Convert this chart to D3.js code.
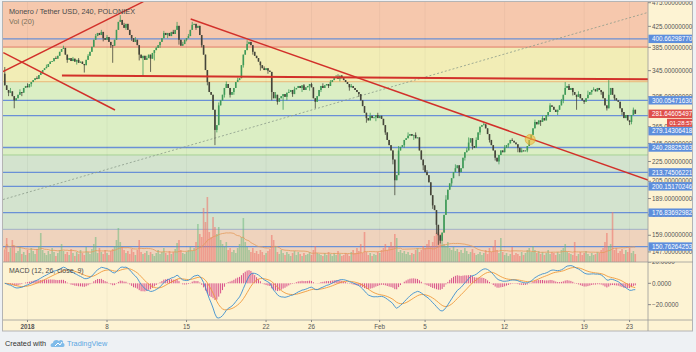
<!DOCTYPE html>
<html><head><meta charset="utf-8">
<script src="https://cdn.jsdelivr.net/npm/d3@7"></script>
<style>body{margin:0;background:#eef1f4;}svg{display:block;}</style>
</head><body><svg id="c" width="696" height="352"></svg>
<script>
// ---------------- DATA ----------------
const startTime = Date.UTC(2017, 11, 30, 0, 0);   // first 4h candle
const candleHours = 4;
const closes = [
322,315,311,313,306, 300,303,308,312,311, 318,321,319,324,327, 330,333,332,338,342,
346,349,351,356,360, 361,366,365,370,377, 382,384,372,363,366, 361,365,360,363,358,
360,356,354,363,370, 377,386,399,406,412, 408,414,402,399,404, 395,389,388,399,418,
434,438,428,422,430, 418,408,402,395,399, 389,372,366,370,363, 366,372,365,375,380,
384,389,395,402,412, 408,412,406,414,410, 418,426,399,388,391, 399,402,406,418,428,
430,422,426,408,389, 372,346,327,312,308, 287,261,267,293,300, 308,318,324,318,308,
312,318,327,330,333, 354,372,380,391,395, 389,377,370,366,360, 354,349,346,349,345,
343,312,303,308,298, 303,306,309,305,311, 312,315,309,316,318, 321,318,322,315,319,
321,324,319,303,298, 306,315,321,318,322, 324,321,327,330,333, 335,332,337,333,330,
327,324,319,321,318, 315,312,309,300,292, 283,276,273,279,276, 277,280,276,279,275,
267,258,249,243,237, 227,206,211,237,241, 243,249,251,254,256, 254,255,251,252,237,
227,221,214,211,204, 192,183,179,167,159, 155,161,175,188,197, 203,208,214,218,221,
214,218,229,235,237, 246,251,242,240,249, 258,265,267,268,263, 256,249,243,237,229,
225,232,237,235,240, 243,245,249,248,246, 244,240,235,237,236, 237,242,249,255,263,
271,268,273,271,276, 273,280,284,293,291, 287,284,287,293,300, 308,318,321,315,318,
312,308,305,309,303, 300,298,303,308,312, 315,316,313,318,315, 312,303,293,289,308,
318,308,303,300,298, 289,284,276,280,273, 271,280,287,281.65
];
const firstOpen = 340;
const wickHighs = [[0,351],[3,318],[8,316],[12,325],[17,336],[22,355],[27,369],[31,388],[36,368],[39,366],[44,373],
  [48,410],[51,418],[54,408],[61,448],[63,432],[66,412],[69,404],[75,370],[80,386],[84,416],[87,410],[89,418],[91,434],
  [94,395],[97,410],[99,434],[103,414],[108,318],[113,297],[117,328],[123,334],[128,398],[133,370],[137,352],[143,312],
  [150,316],[153,320],[158,324],[162,326],[168,325],[172,330],[175,338],[176,339],[178,338],[183,324],[193,283],[197,283],
  [203,247],[208,242],[213,258],[217,258],[223,216],[233,192],[238,222],[244,240],[245,252],[249,252],[253,271],[264,243],
  [268,251],[273,240],[280,274],[284,279],[288,296],[294,302],[296,327],[298,324],[303,313],[308,314],[311,319],[316,313],
  [319,330],[323,303],[327,281],[332,290]];
const wickLows = [[2,306],[5,289],[9,306],[14,320],[20,340],[26,360],[33,358],[38,355],[42,342],[45,370],[52,396],[56,384],
  [57,358],[64,418],[67,397],[71,362],[73,338],[77,343],[79,362],[82,384],[86,402],[92,390],[96,396],[101,418],[104,385],
  [107,322],[111,243],[112,258],[116,304],[119,304],[121,308],[126,350],[131,372],[135,345],[139,340],[141,300],[144,294],
  [147,287],[149,300],[152,305],[157,312],[161,314],[164,289],[167,312],[171,318],[177,328],[182,314],[187,305],[191,270],
  [196,272],[201,255],[205,222],[206,192],[211,240],[216,249],[221,216],[226,180],[228,160],[229,152],[230,153],[232,170],
  [236,200],[240,210],[243,226],[247,238],[251,255],[256,246],[259,226],[261,222],[266,240],[271,235],[276,235],[283,266],
  [287,278],[292,280],[295,296],[300,307],[302,287],[306,295],[310,308],[315,308],[318,286],[322,300],[326,280],[330,267],[331,268]];
const volumes = [
12,24,10,14,22,16,9,11,15,8, 10,7,12,9,14,11,8,13,16,29, 12,9,7,11,8,14,10,6,9,12,
18,11,8,10,7,13,9,6,10,8, 12,9,7,15,10,8,13,18,25,9, 14,10,8,12,9,7,11,13,16,22,
34,20,15,12,9,11,8,13,10,7, 12,22,10,8,9,11,7,10,8,6, 9,12,8,10,14,9,7,11,8,10,
13,19,22,12,9,8,10,12,15,11, 14,20,38,28,25,54,40,65,30,25, 45,35,28,35,22,18,15,20,12,14,
10,12,9,14,18,25,44,20,15,12, 10,14,9,11,8,12,10,7,9,11, 13,27,22,15,10,8,12,9,7,10,
8,6,9,11,7,10,8,6,9,7, 8,10,7,12,16,9,8,7,6,9, 7,10,8,6,9,7,11,8,6,7,
9,8,6,10,12,9,14,11,18,9, 30,10,7,9,6,8,7,10,9,12, 14,18,12,15,20,16,28,24,10,12,
9,11,8,10,7,9,8,12,14,10, 12,16,14,18,22,16,20,26,29,30, 28,22,18,16,20,14,12,15,11,13,
10,12,9,14,11,8,10,13,9,7, 8,10,7,9,12,8,14,10,16,22, 12,9,24,10,7,9,6,8,15,7,
9,8,6,10,7,9,12,14,10,16, 12,9,11,8,10,7,9,12,8,10, 9,7,10,8,12,14,18,10,9,8,
7,20,6,8,10,7,9,11,8,6, 9,7,8,10,9,12,14,20,29,16, 18,50,12,14,9,11,13,8,12,10,
14,9,11,8
];
const hLines = [400.66298770, 300.05471630, 279.14306418, 240.28825363, 213.74506221, 200.15170246, 176.83692982, 150.76264253];
const bandLevels = [385.5, 327.5, 232, 163.5];
const priceTicks = [475,425,385,345,305,265,245,225,205,189,175,159,147];
const macdTicks = [20, 0, -20];
const timeTicks = [["2018","2018-01-01"],["8","2018-01-08"],["15","2018-01-15"],["22","2018-01-22"],["26","2018-01-26"],
  ["Feb","2018-02-01"],["5","2018-02-05"],["12","2018-02-12"],["19","2018-02-19"],["23","2018-02-23"]];
// trend lines: [candle index, price] anchors
const trendLines = [
  [[-0.94,343.6],[73.2,477.3]],
  [[-0.78,375.5],[58.2,286.7]],
  [[98.2,440.1],[339.8,206.2]]
];
const levelLine = [[30.2,337.1],[339.8,331.3]];
const dottedLine = [[-0.94,188.1],[339.8,453.9]];
const markerPoint = [277.5, 249.5];
const lastPrice = 281.64605497;
const countdown = "01:28:57";
const title = "Monero / Tether USD, 240, POLONIEX";

// ---------------- LAYOUT ----------------
const L=3, R=648, T=2, B1=262, B2=320, B3=331;
const svg = d3.select('#c');
const FONT = '"Liberation Sans", Arial, sans-serif';
const DAY = 86400000;
const jan1 = Date.UTC(2018,0,1);
const x = d3.scaleTime().domain([new Date(jan1 - 2.1567*DAY), new Date(jan1 + 54.621*DAY)]).range([L, R]);
const tOf = i => new Date(startTime + i*candleHours*3600000);
const xi = i => x(tOf(i));
const y = d3.scaleLog().domain([140.2, 476.6]).range([B1, T]);
const yv = d3.scaleLinear().domain([0, 90]).range([B1, B1-90]);
const ym = d3.scaleLinear().domain([-34.4, 20]).range([B2, B1]);

// candles
const candles = closes.map((c,i)=>{
  const o = i===0 ? firstOpen : closes[i-1];
  return {i, o, c, h: Math.max(o,c), l: Math.min(o,c), v: volumes[i]};
});
wickHighs.forEach(([i,p])=>{ if(candles[i]) candles[i].h = Math.max(candles[i].h,p); });
wickLows.forEach(([i,p])=>{ if(candles[i]) candles[i].l = Math.min(candles[i].l,p); });

// indicators
function ema(arr,n){const k=2/(n+1);let e=arr[0];return arr.map(v=>(e=v*k+e*(1-k)));}
const e12=ema(closes,12), e26=ema(closes,26);
const macd=closes.map((_,i)=>e12[i]-e26[i]);
const signal=ema(macd,9);
const hist=macd.map((m,i)=>m-signal[i]);
const volMA=volumes.map((_,i)=>d3.mean(volumes.slice(Math.max(0,i-19),i+1)));

// ---------------- DRAW ----------------
svg.append('rect').attr('width',696).attr('height',352).attr('fill','#eef1f4');
svg.append('rect').attr('x',2.5).attr('y',1.5).attr('width',690).attr('height',B3-1.5)
  .attr('fill','#fdf3d3').attr('stroke','#b4b4b4');

const defs = svg.append('defs');
defs.append('clipPath').attr('id','cp1').append('rect').attr('x',L).attr('y',T).attr('width',R-L).attr('height',B1-T);
defs.append('clipPath').attr('id','cp2').append('rect').attr('x',L).attr('y',B1).attr('width',R-L).attr('height',B2-B1);
defs.append('clipPath').attr('id','cpa1').append('rect').attr('x',R).attr('y',T).attr('width',50).attr('height',B1-T);
defs.append('clipPath').attr('id','cpa2').append('rect').attr('x',R).attr('y',B1).attr('width',50).attr('height',B2-B1);

const topG = svg.append('g').attr('clip-path','url(#cp1)');
// bands
const bandEdges = [y.domain()[1], ...bandLevels, y.domain()[0]];
const bandColors = ['#f6c8ad','#f2edb6','#dbeec4','#d3e3ce','#efd3bd'];
bandEdges.slice(0,-1).forEach((p,k)=>{
  topG.append('rect').attr('x',L).attr('width',R-L).attr('y',y(p)).attr('height',y(bandEdges[k+1])-y(p)).attr('fill',bandColors[k]);
});
const bandLineColors = ['#e07a68','#eab878','#a6d296','#a0b0c8'];
bandLevels.forEach((p,k)=>{
  topG.append('line').attr('x1',L).attr('x2',R).attr('y1',y(p)).attr('y2',y(p)).attr('stroke',bandLineColors[k]).attr('stroke-width',1);
});
// vertical grid
timeTicks.forEach(([lab,d])=>{
  const xx=x(new Date(d+'T00:00:00Z'));
  svg.append('line').attr('x1',xx).attr('x2',xx).attr('y1',T).attr('y2',B2).attr('stroke','rgba(0,0,0,0.04)');
});
// horizontal blue lines
hLines.forEach(p=>{
  topG.append('line').attr('x1',L).attr('x2',R).attr('y1',y(p)).attr('y2',y(p)).attr('stroke','#6a90d6').attr('stroke-width',1.3);
});
// volume
topG.append('g').selectAll('rect').data(candles).join('rect')
  .attr('x',d=>xi(d.i)-0.8).attr('width',1.6)
  .attr('y',d=>yv(d.v)).attr('height',d=>B1-yv(d.v))
  .attr('fill',d=>d.c>=d.o?'rgba(110,185,125,0.55)':'rgba(238,120,110,0.6)');
topG.append('path').datum(volMA).attr('fill','none').attr('stroke','#e39a5c').attr('stroke-width',0.8)
  .attr('d',d3.line().x((d,i)=>xi(i)).y(d=>yv(d)));
// dotted line
topG.append('line').attr('x1',xi(dottedLine[0][0])).attr('y1',y(dottedLine[0][1]))
  .attr('x2',xi(dottedLine[1][0])).attr('y2',y(dottedLine[1][1]))
  .attr('stroke','#8a9a8a').attr('stroke-width',0.8).attr('stroke-dasharray','2,2');
// candles
const cw = 1.6;
const cg = topG.append('g');
const upC = '#3f9a58', dnC = '#45453a';
cg.selectAll('line').data(candles).join('line')
  .attr('x1',d=>xi(d.i)).attr('x2',d=>xi(d.i)).attr('y1',d=>y(d.h)).attr('y2',d=>y(d.l))
  .attr('stroke',d=>d.c>=d.o?upC:dnC).attr('stroke-width',0.8);
cg.selectAll('rect').data(candles).join('rect')
  .attr('x',d=>xi(d.i)-cw/2).attr('width',cw)
  .attr('y',d=>y(Math.max(d.o,d.c))).attr('height',d=>Math.max(0.9,Math.abs(y(d.o)-y(d.c))))
  .attr('fill',d=>d.c>=d.o?upC:dnC);
// trend lines
trendLines.forEach(ln=>{
  topG.append('line').attr('x1',xi(ln[0][0])).attr('y1',y(ln[0][1])).attr('x2',xi(ln[1][0])).attr('y2',y(ln[1][1]))
    .attr('stroke','#d2302a').attr('stroke-width',1.5);
});
topG.append('line').attr('x1',xi(levelLine[0][0])).attr('y1',y(levelLine[0][1])).attr('x2',xi(levelLine[1][0])).attr('y2',y(levelLine[1][1]))
  .attr('stroke','#d2302a').attr('stroke-width',2);
topG.append('circle').attr('cx',xi(markerPoint[0])).attr('cy',y(markerPoint[1])).attr('r',5)
  .attr('fill','rgba(240,190,60,0.6)').attr('stroke','rgba(220,160,40,0.6)');

// legend
svg.append('text').attr('x',9).attr('y',14).attr('font-family',FONT).attr('font-size',7.3).attr('fill','#4a4a4a').text(title);
svg.append('text').attr('x',9).attr('y',24).attr('font-family',FONT).attr('font-size',7.3).attr('fill','#7a6f58').text('Vol (20)');

// MACD pane
const mg = svg.append('g').attr('clip-path','url(#cp2)');
mg.selectAll('rect').data(hist).join('rect')
  .attr('x',(d,i)=>xi(i)-0.5).attr('width',1)
  .attr('y',d=>Math.min(ym(d),ym(0))).attr('height',d=>Math.abs(ym(d)-ym(0)))
  .attr('fill','#d9508a');
mg.append('path').datum(signal).attr('fill','none').attr('stroke','#ef9a3c').attr('stroke-width',0.9)
  .attr('d',d3.line().x((d,i)=>xi(i)).y(d=>ym(d)));
mg.append('path').datum(macd).attr('fill','none').attr('stroke','#3c8fd0').attr('stroke-width',0.9)
  .attr('d',d3.line().x((d,i)=>xi(i)).y(d=>ym(d)));
svg.append('text').attr('x',9).attr('y',273).attr('font-family',FONT).attr('font-size',7).attr('fill','#4a4a4a').text('MACD (12, 26, close, 9)');

// separators
[[L,B1,R+45,B1],[L,B2,692,B2],[R,T,R,B3]].forEach(a=>{
  svg.append('line').attr('x1',a[0]).attr('y1',a[1]).attr('x2',a[2]).attr('y2',a[3]).attr('stroke','#9a9a9a').attr('stroke-width',0.8);
});

// price axis
const pa = svg.append('g').attr('clip-path','url(#cpa1)').attr('font-family',FONT).attr('font-size',6.3).attr('fill','#555');
priceTicks.forEach(p=>{
  pa.append('line').attr('x1',R).attr('x2',R+3).attr('y1',y(p)).attr('y2',y(p)).attr('stroke','#888');
  pa.append('text').attr('x',R+4).attr('y',y(p)).attr('dy','0.35em').text(d3.format('.8f')(p));
});
const ma = svg.append('g').attr('clip-path','url(#cpa2)').attr('font-family',FONT).attr('font-size',6.3).attr('fill','#555');
macdTicks.forEach(v=>{
  ma.append('line').attr('x1',R).attr('x2',R+3).attr('y1',ym(v)).attr('y2',ym(v)).attr('stroke','#888');
  ma.append('text').attr('x',R+4).attr('y',ym(v)).attr('dy','0.35em').text(d3.format('.4f')(v));
});
// labels with collision handling
const lh = 8.4;
const labels = hLines.map(p=>({p, yy:y(p), col:'#5d8edc'}));
const cur = {p:lastPrice, yy:y(lastPrice), col:'#df4f4b', cur:true};
labels.push(cur);
labels.sort((a,b)=>a.yy-b.yy);
let lastBottom = -1e9;
labels.forEach(l=>{
  let c = Math.max(l.yy, lastBottom + lh/2);
  l.cy = c;
  lastBottom = c + lh/2 + (l.cur ? 9 : 0);
});
const lg = svg.append('g').attr('font-family',FONT).attr('font-size',6.3);
labels.forEach(l=>{
  lg.append('rect').attr('x',R+0.5).attr('y',l.cy-lh/2).attr('width',692-R-0.5).attr('height',lh).attr('fill',l.col);
  lg.append('text').attr('x',R+4).attr('y',l.cy).attr('dy','0.35em').attr('fill','#fff').text(d3.format('.8f')(l.p));
  if(l.cur){
    lg.append('rect').attr('x',667).attr('y',l.cy+lh/2+0.8).attr('width',25).attr('height',8).attr('fill',l.col);
    lg.append('text').attr('x',669.5).attr('y',l.cy+lh/2+4.8).attr('dy','0.35em').attr('fill','#fff').attr('font-size',6).text(countdown);
  }
});

// time axis
const ta = svg.append('g').attr('font-family',FONT).attr('font-size',6.3).attr('fill','#555').attr('text-anchor','middle');
timeTicks.forEach(([lab,d])=>{
  const xx=x(new Date(d+'T00:00:00Z'));
  ta.append('line').attr('x1',xx).attr('x2',xx).attr('y1',B2).attr('y2',B2+2).attr('stroke','#888');
  ta.append('text').attr('x',xx).attr('y',328.5).attr('font-weight',lab==='2018'?'bold':'normal').text(lab);
});

// footer
svg.append('text').attr('x',5).attr('y',346).attr('font-family',FONT).attr('font-size',7.3).attr('fill','#333').text('Created with');
const logo = svg.append('g').attr('transform','translate(51,339)');
logo.append('path').attr('d','M1,8 C-1,8 -1,4 2,4 C2,1 6,0 8,2 C9,0 13,1 12,4 C14,4 14,8 12,8 Z').attr('fill','#7fbbe9');
logo.append('path').attr('d','M4,7 L7,4 L9,6 L11,3').attr('fill','none').attr('stroke','#fff').attr('stroke-width',1);
svg.append('text').attr('x',67).attr('y',346).attr('font-family',FONT).attr('font-size',7.3).attr('fill','#5aa6e2').text('TradingView');
</script></body></html>
